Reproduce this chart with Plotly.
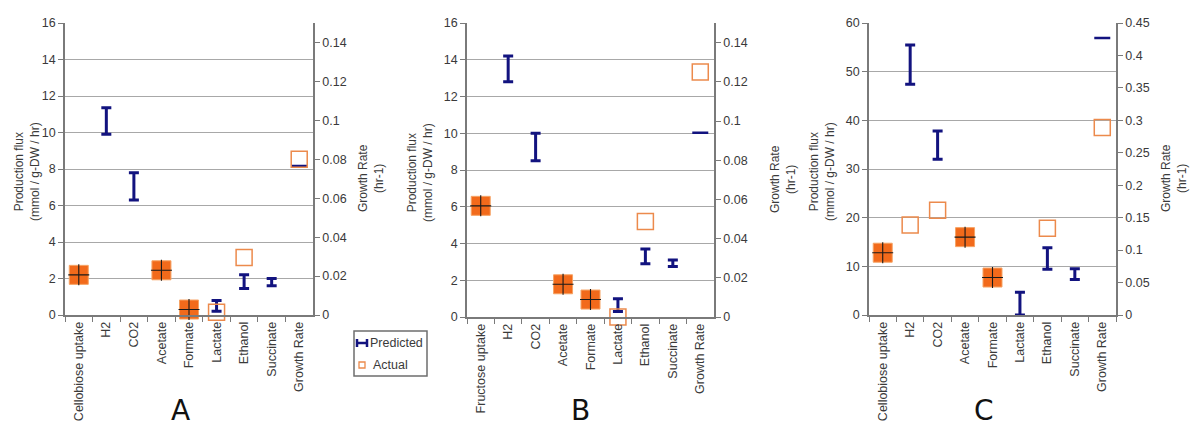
import plotly.graph_objects as go

# ---------------- data ----------------
cats_A = ["Cellobiose uptake", "H2", "CO2", "Acetate", "Formate", "Lactate", "Ethanol", "Succinate", "Growth Rate"]
cats_B = ["Fructose uptake", "H2", "CO2", "Acetate", "Formate", "Lactate", "Ethanol", "Succinate", "Growth Rate"]
cats_C = ["Cellobiose uptake", "H2", "CO2", "Acetate", "Formate", "Lactate", "Ethanol", "Succinate", "Growth Rate"]

# predicted flux ranges (low, high) for predicted products
pred_cats = ["H2", "CO2", "Lactate", "Ethanol", "Succinate"]
pred_low_A = [9.9, 6.3, 0.2, 1.45, 1.6]
pred_high_A = [11.35, 7.8, 0.8, 2.2, 2.0]
pred_low_B = [12.8, 8.5, 0.3, 2.9, 2.75]
pred_high_B = [14.2, 10.0, 1.0, 3.7, 3.1]
pred_low_C = [47.4, 32.0, 0.0, 9.4, 7.3]
pred_high_C = [55.5, 37.8, 4.7, 13.8, 9.5]

# measured inputs (uptake / constrained fluxes) - filled markers
input_cats_A = ["Cellobiose uptake", "Acetate", "Formate"]
input_vals_A = [2.2, 2.45, 0.3]
input_cats_B = ["Fructose uptake", "Acetate", "Formate"]
input_vals_B = [6.05, 1.78, 0.95]
input_cats_C = ["Cellobiose uptake", "Acetate", "Formate"]
input_vals_C = [12.8, 16.0, 7.7]

# actual measured products - open markers
actual_cats_A = ["Lactate", "Ethanol"]
actual_vals_A = [0.15, 3.15]
actual_cats_B = ["Lactate", "Ethanol"]
actual_vals_B = [0.0, 5.2]
actual_cats_C = ["H2", "CO2", "Ethanol"]
actual_vals_C = [18.5, 21.5, 17.8]

# growth rate (right axis)
growth_pred = [0.0765, 0.094, 0.427]
growth_actual = [0.080, 0.125, 0.289]

# axis settings
flux_max = [16, 16, 60]
flux_dtick = [2, 2, 10]
growth_max = [0.15, 0.15, 0.45]
growth_ticks = [
    [0, 0.02, 0.04, 0.06, 0.08, 0.1, 0.12, 0.14],
    [0, 0.02, 0.04, 0.06, 0.08, 0.1, 0.12, 0.14],
    [0, 0.05, 0.1, 0.15, 0.2, 0.25, 0.3, 0.35, 0.4, 0.45],
]
growth_ticktext = [
    ["0", "0.02", "0.04", "0.06", "0.08", "0.1", "0.12", "0.14"],
    ["0", "0.02", "0.04", "0.06", "0.08", "0.1", "0.12", "0.14"],
    ["0", "0.05", "0.1", "0.15", "0.2", "0.25", "0.3", "0.35", "0.4", "0.45"],
]
panel_letters = ["A", "B", "C"]

# ---------------- style ----------------
W, H = 1200, 432
NAVY = "#12137F"
ORANGE = "#F26A1B"
ORANGE_LIGHT = "#F6A364"
ORANGE_OPEN = "#EC8A4C"
AXIS = "#7A7A7A"
GRID = "#A8A8A8"
TXT = "#3A3A3A"
FONT = "Liberation Sans, Arial, sans-serif"
TICK_SIZE = 12.5

# pixel boxes of each plot area: (left, right, top, bottom)
boxes = [(65, 313, 23, 315), (467, 714, 23, 317), (869, 1116, 23, 315)]
left_title_x = [27, 420, 822]
right_title_x = [371, 783, 1174]
letter_x = [180, 580, 984]

def px(x):
    return x / W

def py(y):
    return 1 - y / H

fig = go.Figure()

panels = [
    (cats_A, pred_low_A, pred_high_A, input_cats_A, input_vals_A, actual_cats_A, actual_vals_A),
    (cats_B, pred_low_B, pred_high_B, input_cats_B, input_vals_B, actual_cats_B, actual_vals_B),
    (cats_C, pred_low_C, pred_high_C, input_cats_C, input_vals_C, actual_cats_C, actual_vals_C),
]

layout = {}
annotations = []
for i, (cats, lo, hi, icats, ivals, acats, avals) in enumerate(panels):
    xa = "x" if i == 0 else f"x{i+1}"
    yl = "y" if i == 0 else f"y{2*i+1}"
    yr = f"y{2*i+2}"
    xkey = "xaxis" if i == 0 else f"xaxis{i+1}"
    ylkey = "yaxis" if i == 0 else f"yaxis{2*i+1}"
    yrkey = f"yaxis{2*i+2}"
    l, r, t, b = boxes[i]

    # predicted ranges
    fig.add_trace(go.Scatter(
        x=pred_cats, y=lo, xaxis=xa, yaxis=yl, mode="markers",
        marker=dict(size=1, color="rgba(0,0,0,0)"),
        error_y=dict(type="data", symmetric=False,
                     array=[h - v for h, v in zip(hi, lo)],
                     arrayminus=[0] * len(lo),
                     color=NAVY, thickness=3, width=5),
        showlegend=False, hoverinfo="skip"))
    # growth predicted (right axis)
    fig.add_trace(go.Scatter(
        x=["Growth Rate"], y=[growth_pred[i]], xaxis=xa, yaxis=yr, mode="markers",
        marker=dict(size=1, color="rgba(0,0,0,0)"),
        error_y=dict(type="data", array=[0], color=NAVY, thickness=2.5, width=8),
        showlegend=False, hoverinfo="skip"))
    # inputs: filled square + cross
    fig.add_trace(go.Scatter(
        x=icats, y=ivals, xaxis=xa, yaxis=yl, mode="markers",
        marker=dict(symbol="square", size=19, color=ORANGE,
                    line=dict(color=ORANGE_LIGHT, width=1)),
        cliponaxis=False, showlegend=False, hoverinfo="skip"))
    fig.add_trace(go.Scatter(
        x=icats, y=ivals, xaxis=xa, yaxis=yl, mode="markers",
        marker=dict(symbol="cross-thin", size=15, color="#1A1A1A",
                    line=dict(color="#1A1A1A", width=1.1)),
        cliponaxis=False, showlegend=False, hoverinfo="skip"))
    # actual open squares
    fig.add_trace(go.Scatter(
        x=acats, y=avals, xaxis=xa, yaxis=yl, mode="markers",
        marker=dict(symbol="square-open", size=16, color=ORANGE_OPEN,
                    line=dict(color=ORANGE_OPEN, width=1.5)),
        cliponaxis=False, showlegend=False, hoverinfo="skip"))
    fig.add_trace(go.Scatter(
        x=["Growth Rate"], y=[growth_actual[i]], xaxis=xa, yaxis=yr, mode="markers",
        marker=dict(symbol="square-open", size=16, color=ORANGE_OPEN,
                    line=dict(color=ORANGE_OPEN, width=1.5)),
        cliponaxis=False, showlegend=False, hoverinfo="skip"))

    layout[xkey] = dict(
        domain=[px(l), px(r)], anchor=yl, type="category", automargin=False,
        categoryorder="array", categoryarray=cats, range=[-0.5, 8.5],
        tickson="boundaries", ticks="outside", ticklen=5, tickcolor=AXIS,
        tickwidth=1.2, tickangle=-90, showline=True, linecolor=AXIS,
        linewidth=1.5, showgrid=False, zeroline=False,
        tickfont=dict(family=FONT, size=12.5, color=TXT), fixedrange=True)
    layout[ylkey] = dict(
        domain=[py(b), py(t)], anchor=xa, range=[0, flux_max[i]], automargin=False,
        dtick=flux_dtick[i], ticks="outside", ticklen=5, tickcolor=AXIS,
        tickwidth=1.2, showline=True, linecolor=AXIS, linewidth=1.5,
        showgrid=True, gridcolor=GRID, gridwidth=1.2, zeroline=False,
        tickfont=dict(family=FONT, size=TICK_SIZE, color=TXT), fixedrange=True)
    layout[yrkey] = dict(
        overlaying=yl, side="right", anchor=xa, range=[0, growth_max[i]],
        automargin=False,
        tickmode="array", tickvals=growth_ticks[i], ticktext=growth_ticktext[i],
        ticks="outside", ticklen=5, tickcolor=AXIS, tickwidth=1.2,
        showline=True, linecolor=AXIS, linewidth=1.5, showgrid=False,
        zeroline=False, tickfont=dict(family=FONT, size=TICK_SIZE, color=TXT),
        fixedrange=True)

    cy = (t + b) / 2 + 3
    annotations.append(dict(
        x=px(left_title_x[i]), y=py(cy), xref="paper", yref="paper",
        text="Production flux<br>(mmol / g-DW / hr)", showarrow=False,
        textangle=-90, font=dict(family=FONT, size=12, color=TXT),
        xanchor="center", yanchor="middle"))
    annotations.append(dict(
        x=px(right_title_x[i]), y=py(cy + 6), xref="paper", yref="paper",
        text="Growth Rate<br>(hr-1)", showarrow=False,
        textangle=-90, font=dict(family=FONT, size=12, color=TXT),
        xanchor="center", yanchor="middle"))
    annotations.append(dict(
        x=px(letter_x[i]), y=py(410), xref="paper", yref="paper",
        text=panel_letters[i], showarrow=False,
        font=dict(family="DejaVu Sans, sans-serif", size=28, color="#111111"),
        xanchor="center", yanchor="middle"))

# legend (drawn manually)
shapes = [
    dict(type="rect", xref="paper", yref="paper", x0=px(354), x1=px(427),
         y0=py(376), y1=py(331), line=dict(color="#6E6E6E", width=1.5),
         fillcolor="white"),
    dict(type="line", xref="paper", yref="paper", x0=px(357), x1=px(367),
         y0=py(343), y1=py(343), line=dict(color=NAVY, width=2.5)),
    dict(type="line", xref="paper", yref="paper", x0=px(357), x1=px(357),
         y0=py(339), y1=py(347), line=dict(color=NAVY, width=2.5)),
    dict(type="line", xref="paper", yref="paper", x0=px(367), x1=px(367),
         y0=py(339), y1=py(347), line=dict(color=NAVY, width=2.5)),
    dict(type="rect", xref="paper", yref="paper", x0=px(359), x1=px(365),
         y0=py(368), y1=py(362), line=dict(color=ORANGE_OPEN, width=1.3)),
]
annotations.append(dict(x=px(368), y=py(343), xref="paper", yref="paper",
                        text="Predicted", showarrow=False, xanchor="left",
                        yanchor="middle", font=dict(family=FONT, size=12.5, color=TXT)))
annotations.append(dict(x=px(371), y=py(365), xref="paper", yref="paper",
                        text="Actual", showarrow=False, xanchor="left",
                        yanchor="middle", font=dict(family=FONT, size=12.5, color=TXT)))

fig.update_layout(
    width=W, height=H, margin=dict(l=0, r=0, t=0, b=0, autoexpand=False),
    paper_bgcolor="white", plot_bgcolor="white",
    showlegend=False, annotations=annotations, shapes=shapes,
    **layout)

fig.write_html("out.html", config={"displayModeBar": False},
               post_script="document.body.style.margin='0';document.body.style.padding='0';")
